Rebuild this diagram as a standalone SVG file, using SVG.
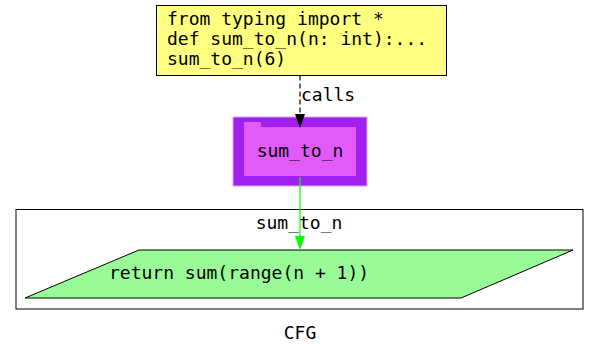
<svg xmlns="http://www.w3.org/2000/svg" width="600" height="356" viewBox="0 0 600 356">
  <style>
    text { font-family: "DejaVu Sans Mono", "Liberation Mono", monospace; font-size: 18px; fill: #000; }
    .mid { text-anchor: middle; }
    .edge { fill: none; stroke-width: 1.2; }
  </style>

  <rect width="600" height="356" fill="#fff"/>

  <!-- cluster: sum_to_n -->
  <g id="cluster_sum_to_n">
    <rect x="16" y="209.5" width="567" height="99.5" fill="none" stroke="#000" stroke-width="1"/>
    <text class="mid" x="299" y="229">sum_to_n</text>
  </g>

  <!-- module source node -->
  <g id="node_source">
    <rect x="156.5" y="5.5" width="290" height="70" fill="#ffff80" stroke="#000" stroke-width="1"/>
    <text x="167" y="25">from typing import *</text>
    <text x="167" y="45">def sum_to_n(n: int):...</text>
    <text x="167" y="65">sum_to_n(6)</text>
  </g>

  <!-- function node -->
  <g id="node_func">
    <rect x="233" y="117" width="134" height="69" fill="#a020f0" stroke="#d9a0f5" stroke-width="1"/>
    <path d="M244,122 L261,122 L261,127 L356,127 L356,176 L244,176 Z" fill="#e25af9"/>
    <text class="mid" x="300" y="157">sum_to_n</text>
  </g>

  <!-- return statement node -->
  <g id="node_return">
    <path d="M139,250 L573,250 L461,298 L25,298 Z" fill="#98fb98" stroke="#000" stroke-width="1"/>
    <text x="109" y="279">return sum(range(n + 1))</text>
  </g>

  <!-- graph label -->
  <text class="mid" x="300" y="339">CFG</text>

  <!-- connectors -->
  <g id="edges">
    <path class="edge" d="M300,75.5 L300,114" stroke="#000" stroke-dasharray="5,3"/>
    <path d="M295,114 L305,114 L300,128 Z" fill="#000"/>
    <text x="301" y="101">calls</text>
    <path class="edge" d="M300,177 L300,237" stroke="#00ff00"/>
    <path d="M295,236 L305,236 L300,250 Z" fill="#00ff00"/>
  </g>
</svg>
